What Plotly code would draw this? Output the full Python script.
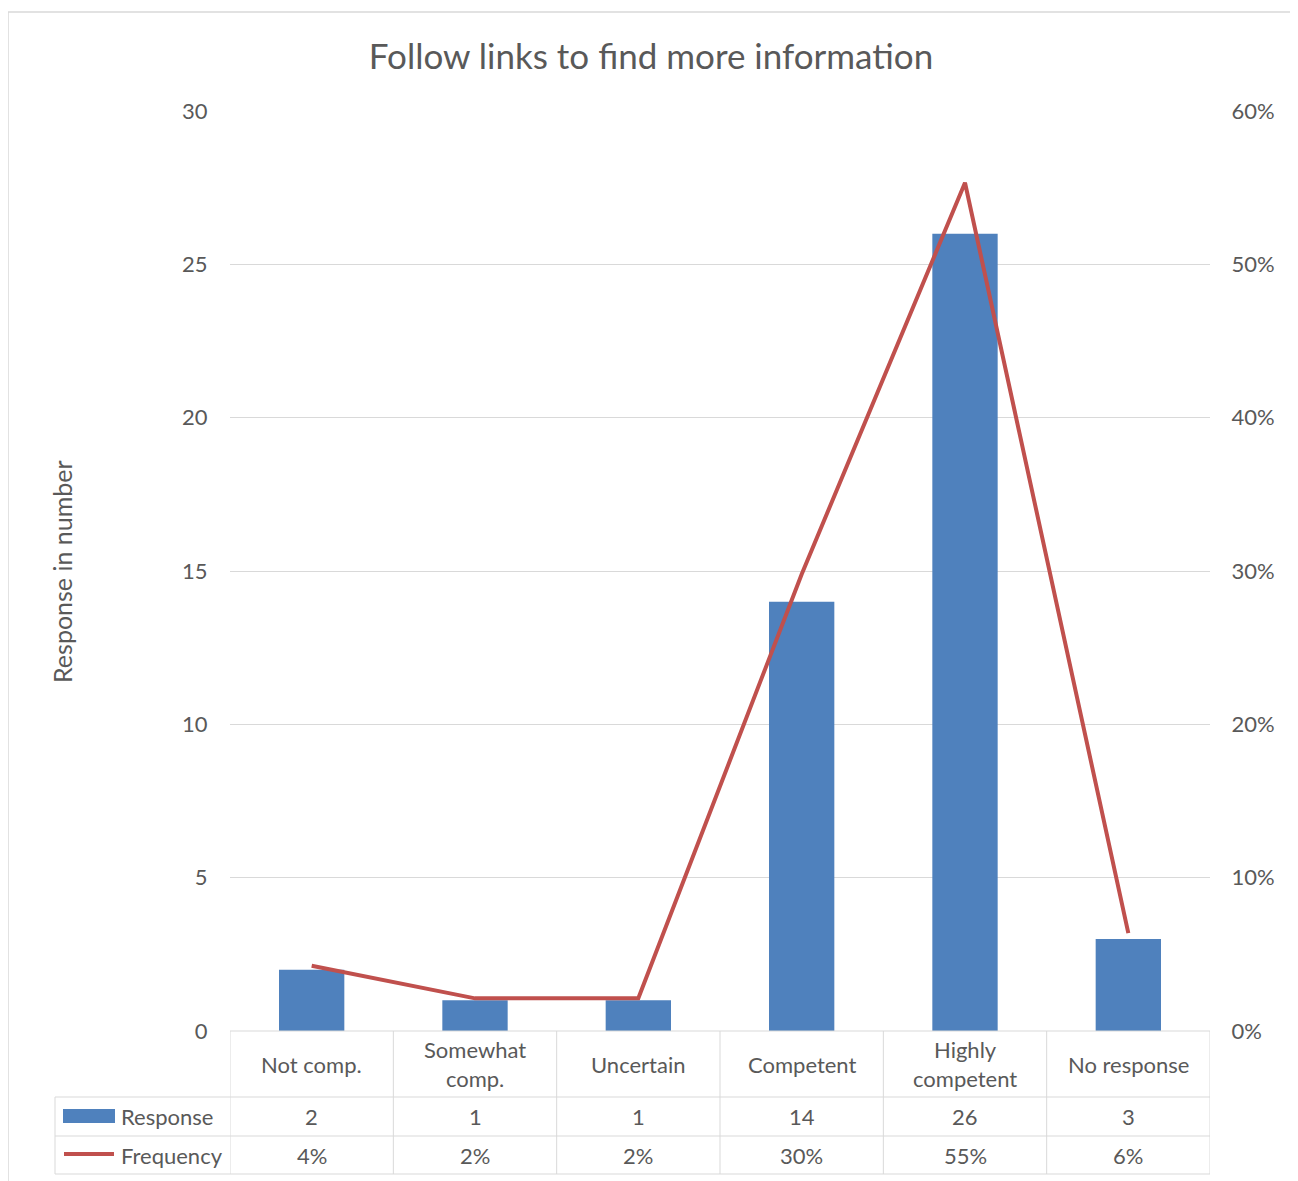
import plotly.graph_objects as go

# Data
categories = ["Not comp.", "Somewhat<br>comp.", "Uncertain", "Competent", "Highly<br>competent", "No response"]
responses = [2, 1, 1, 14, 26, 3]
frequency = [0.0426, 0.0213, 0.0213, 0.2979, 0.5532, 0.0638]

left_ticks = [0, 5, 10, 15, 20, 25, 30]
right_ticks = [0, 0.1, 0.2, 0.3, 0.4, 0.5, 0.6]
right_labels = ["0%", "10%", "20%", "30%", "40%", "50%", "60%"]

FONT = "Lato"
TXT = "#595959"
GRID = "#d9d9d9"
BLUE = "#4f81bd"
RED = "#c0504d"
FS = 22

fig = go.Figure()

fig.add_trace(go.Bar(
    x=categories, y=responses, name="Response",
    marker=dict(color=BLUE, line=dict(width=0)), width=0.4,
))
fig.add_trace(go.Scatter(
    x=categories, y=frequency, name="Frequency", yaxis="y2",
    mode="lines", line=dict(color=RED, width=4),
))

# page offset (body margin) and figure size
OFF = 8
W, H = 1290, 1173
# plot area in page pixels: x 230..1210, y 111..1031
PL, PR, PT, PB = 230, 1210, 111, 1031
L, T = PL - OFF, PT - OFF
R, B = W - (PR - OFF), H - (PB - OFF)
pw, ph = PR - PL, PB - PT


def px_x(x):
    return (x - PL) / pw


def px_y(y):
    return (PB - y) / ph


shapes = []
line_style = dict(color=GRID, width=1)
# horizontal table lines
shapes.append(dict(type="line", xref="paper", yref="paper", x0=0, x1=1, y0=0, y1=0, line=line_style))
for yy in (1097, 1136, 1174):
    shapes.append(dict(type="line", xref="paper", yref="paper", x0=px_x(55), x1=1,
                       y0=px_y(yy), y1=px_y(yy), line=line_style))
# vertical table lines at category boundaries
for i in range(len(categories) + 1):
    shapes.append(dict(type="line", xref="x", yref="paper", x0=i - 0.5, x1=i - 0.5,
                       y0=0, y1=px_y(1174), line=line_style))
shapes.append(dict(type="line", xref="paper", yref="paper", x0=px_x(55), x1=px_x(55),
                   y0=px_y(1097), y1=px_y(1174), line=line_style))
# legend keys
shapes.append(dict(type="rect", xref="paper", yref="paper", x0=px_x(63), x1=px_x(115),
                   y0=px_y(1123), y1=px_y(1109), fillcolor=BLUE, line=dict(width=0)))
shapes.append(dict(type="line", xref="paper", yref="paper", x0=px_x(64), x1=px_x(114),
                   y0=px_y(1154), y1=px_y(1154), line=dict(color=RED, width=4)))
# outer chart border
shapes.append(dict(type="rect", xref="paper", yref="paper", x0=px_x(8), x1=px_x(1291),
                   y0=px_y(1200), y1=px_y(12), line=dict(color=GRID, width=1.5),
                   fillcolor="rgba(0,0,0,0)", layer="below"))

annotations = []
tfont = dict(family=FONT, size=FS, color=TXT)
for i, cat in enumerate(categories):
    annotations.append(dict(x=cat, y=px_y(1064), xref="x", yref="paper", text=cat,
                            showarrow=False, font=tfont, align="center",
                            xanchor="center", yanchor="middle"))
    annotations.append(dict(x=cat, y=px_y(1116), xref="x", yref="paper", text=str(responses[i]),
                            showarrow=False, font=tfont, xanchor="center", yanchor="middle"))
    annotations.append(dict(x=cat, y=px_y(1155), xref="x", yref="paper", text=f"{frequency[i]:.0%}",
                            showarrow=False, font=tfont, xanchor="center", yanchor="middle"))
annotations.append(dict(x=px_x(119), y=px_y(1116), xref="paper", yref="paper", text="Response",
                        showarrow=False, font=tfont, xanchor="left", yanchor="middle"))
annotations.append(dict(x=px_x(119), y=px_y(1155), xref="paper", yref="paper", text="Frequency",
                        showarrow=False, font=tfont, xanchor="left", yanchor="middle"))
annotations.append(dict(x=px_x(62), y=px_y(572), xref="paper", yref="paper", text="Response in number",
                        showarrow=False, textangle=-90, font=dict(family=FONT, size=25, color=TXT),
                        xanchor="center", yanchor="middle"))

fig.update_layout(
    width=W, height=H,
    margin=dict(l=L, r=R, t=T, b=B, autoexpand=False),
    paper_bgcolor="white", plot_bgcolor="white",
    showlegend=False,
    font=dict(family=FONT, color=TXT, size=FS),
    title=dict(text="Follow links to find more information", x=(651 - OFF) / W, xref="container",
               xanchor="center", y=1 - (57 - OFF) / H, yanchor="middle",
               font=dict(family=FONT, size=35, color=TXT)),
    xaxis=dict(showticklabels=False, showgrid=False, showline=False, zeroline=False,
               range=[-0.5, 5.5]),
    yaxis=dict(range=[0, 30], tickvals=left_ticks, showgrid=True, gridcolor=GRID, gridwidth=1,
               zeroline=False, showline=False, ticks="outside", ticklen=17,
               tickcolor="rgba(0,0,0,0)", tickfont=dict(size=FS, color=TXT)),
    yaxis2=dict(range=[0, 0.6], overlaying="y", side="right", tickvals=right_ticks,
                ticktext=right_labels, showgrid=False, zeroline=False, showline=False,
                ticks="outside", ticklen=16, tickcolor="rgba(0,0,0,0)",
                tickfont=dict(size=FS, color=TXT)),
    shapes=shapes,
    annotations=annotations,
)

fig.write_html("out.html")
